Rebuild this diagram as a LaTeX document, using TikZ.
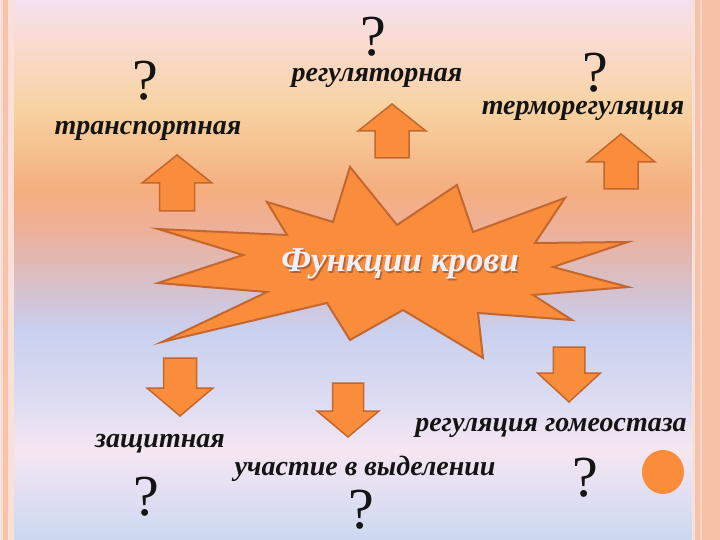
\documentclass[tikz,border=0pt]{standalone}
\usepackage{fontspec}
\setmainfont{Liberation Serif}
\definecolor{ca}{HTML}{F4E0F0}
\definecolor{cb}{HTML}{FADCD6}
\definecolor{cc}{HTML}{F7D2A0}
\definecolor{cd}{HTML}{F5AE7E}
\definecolor{ce}{HTML}{EDB09A}
\definecolor{cf}{HTML}{DDBCBC}
\definecolor{cg}{HTML}{D2C4D8}
\definecolor{ch}{HTML}{C9D0EE}
\definecolor{ci}{HTML}{DCDCF2}
\definecolor{cj}{HTML}{F6E6F2}
\definecolor{ck}{HTML}{DEDEF2}
\definecolor{cl}{HTML}{CAD8F0}
\definecolor{shapefill}{HTML}{F98D3C}
\definecolor{shapeline}{HTML}{C4672F}
\definecolor{salmon}{HTML}{F8C2A8}
\definecolor{palestrip}{HTML}{FBE0DA}
\definecolor{titletext}{HTML}{EEF0FA}
\definecolor{titleshadow}{HTML}{B8602E}
\pgfdeclareverticalshading{bgshade}{100bp}{color(0bp)=(cl); color(25bp)=(cl); color(28.7bp)=(ck); color(33.33bp)=(cj); color(37.96bp)=(ci); color(44.44bp)=(ch); color(47.22bp)=(cg); color(50bp)=(cf); color(53.7bp)=(ce); color(57.41bp)=(cd); color(64.81bp)=(cc); color(71.76bp)=(cb); color(75bp)=(ca); color(100bp)=(ca)}
\tikzset{
  arrowsty/.style={fill=shapefill, draw=shapeline, line width=1.5pt, line join=miter},
  lbl/.style={font=\fontsize{28}{32}\selectfont\bfseries\itshape, text=black!92, inner sep=0pt},
  qmark/.style={font=\fontsize{58}{64}\selectfont, text=black!92, inner sep=0pt, text depth=0pt, anchor=base},
  titlesty/.style={font=\fontsize{35}{40}\selectfont\bfseries\itshape, inner sep=0pt},
}
\newcommand\myblockarrow[5]{%
  \draw[arrowsty] ({#1},{#2}) -- ({#1+#5},{#3}) -- ({#1+#5/2},{#3}) -- ({#1+#5/2},{#4})
    -- ({#1-#5/2},{#4}) -- ({#1-#5/2},{#3}) -- ({#1-#5},{#3}) -- cycle;}
\begin{document}
\begin{tikzpicture}[x=1pt,y=-1pt]
\useasboundingbox (0,0) rectangle (720,540);
\shade[shading=bgshade] (0,0) rectangle (720,540);
% borders
\fill[palestrip] (0,0) rectangle (14,540);
\fill[salmon] (3,0) rectangle (8,540);
\fill[salmon] (692,0) rectangle (720,540);
\fill[palestrip] (692,0) rectangle (695,540);
\fill[palestrip!70!salmon] (700,0) rectangle (702,540);
% star
\draw[fill=shapefill, draw=shapeline, line width=2pt, line join=miter]
 (158,229) -- (287,235) -- (267,202) -- (333,222) -- (350,167) -- (397,225)
 -- (457,185) -- (473,232) -- (565,198) -- (535,243) -- (628,242) -- (553,267)
 -- (628,287) -- (533,295) -- (572,320) -- (478,313) -- (483,358) -- (403,310)
 -- (350,340) -- (327,303) -- (162,342) -- (267,292) -- (158,283) -- (243,255) -- cycle;
\node[titlesty, text=titleshadow] at (401.5,265.5) {Функции крови};
\node[titlesty, text=titletext] (title) at (400,264) {Функции крови};
% arrows
\myblockarrow{177}{155}{183}{211}{35}
\myblockarrow{392}{104}{131}{158}{34}
\myblockarrow{621}{134}{162}{189}{34}
\myblockarrow{180}{416}{388}{358}{33}
\myblockarrow{348}{437}{411}{383}{31}
\myblockarrow{569}{402}{373}{347}{31.5}
% circle
\fill[shapefill] (663,472) ellipse (21 and 22);
% labels
\node[lbl] (transp) at (148,131) {транспортная};
\node[lbl] (regul) at (377,78) {регуляторная};
\node[lbl] (thermo) at (583,111) {терморегуляция};
\node[lbl] (zasch) at (160,444) {защитная};
\node[lbl] (vydel) at (365,469) {участие в выделении};
\node[lbl] (gomeo) at (551,428) {регуляция гомеостаза};
% question marks
\node[qmark] (q1) at (145,100) {?};
\node[qmark] (q2) at (373,56) {?};
\node[qmark] (q3) at (595,92) {?};
\node[qmark] (q4) at (146,515) {?};
\node[qmark] (q5) at (361,528) {?};
\node[qmark] (q6) at (585,496) {?};
\end{tikzpicture}
\end{document}
